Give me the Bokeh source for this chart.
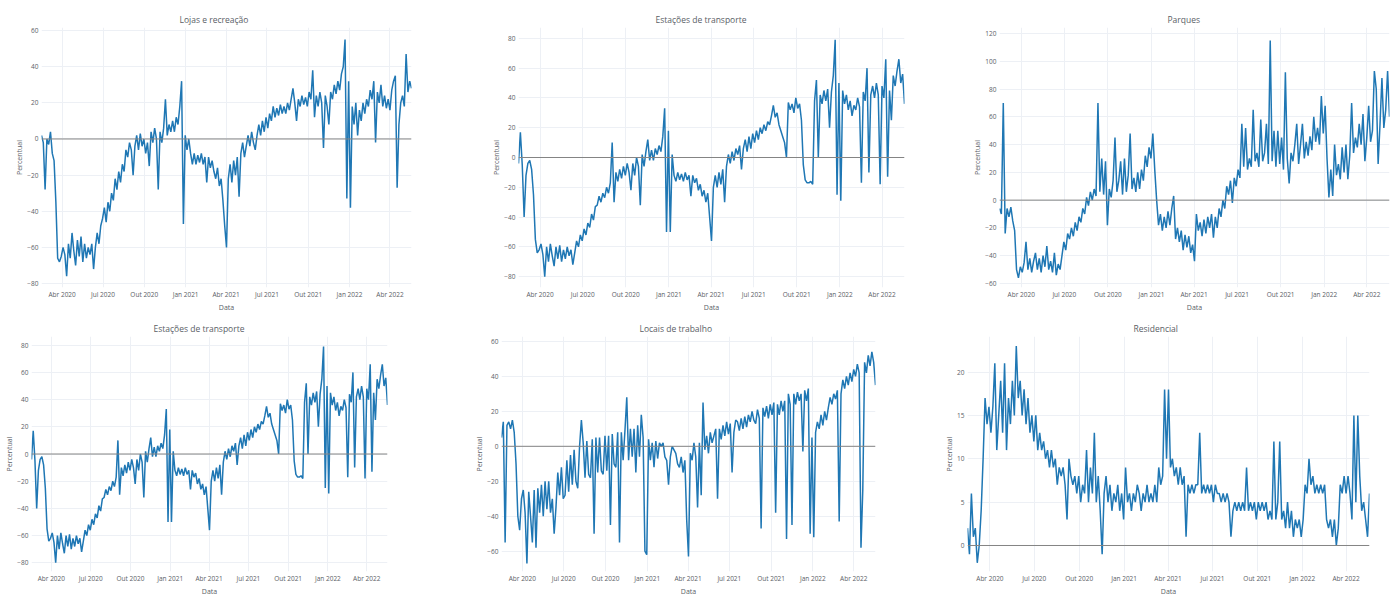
import pandas as pd
from bokeh.plotting import figure
from bokeh.layouts import row, column
from bokeh.models import Range1d, FixedTicker, Span
from bokeh.embed import file_html
from bokeh.resources import INLINE

# ---- data (sampled every 4 days from 2020-02-15) ----
START_DATE = "2020-02-15"
STEP = "4D"

lojas = [
    2, -2, -28, 0, -3, 4, -8, -12, -35, -66,
    -68, -65, -60, -64, -76, -58, -66, -52, -62, -70,
    -56, -65, -54, -68, -58, -66, -60, -64, -58, -72,
    -60, -52, -58, -48, -44, -38, -46, -35, -40, -30,
    -34, -22, -28, -18, -24, -14, -18, -6, -10, -2,
    -6, -20, -4, 2, -6, 3, -4, 0, -8, -2,
    -15, 4, -2, 6, 0, -28, 4, -2, 6, 22,
    2, 8, 4, 10, 4, 12, 8, 18, 32, -47,
    2, -6, 0, -8, -14, -8, -14, -9, -13, -8,
    -14, -10, -24, -10, -16, -12, -18, -22, -16, -26,
    -22, -34, -48, -60, -22, -14, -24, -12, -20, -10,
    -32, -8, -2, -10, -4, 2, -4, 4, -2, -6,
    2, 8, 2, 10, 4, 12, 6, 14, 10, 18,
    12, 17, 13, 19, 14, 18, 14, 20, 16, 22,
    28, 20, 10, 22, 18, 24, 19, 23, 18, 26,
    22, 38, 12, 24, 18, 26, 20, -5, 24, 18,
    8, 26, 22, 30, 25, 32, 27, 36, 40, 55,
    -33, 32, -38, 18, 8, 20, 2, 16, 10, 20,
    14, 22, 18, 27, 22, 32, -2, 26, 20, 30,
    18, 24, 17, 22, 16, 27, 32, 35, -27, 8,
    20, 24, 18, 47, 26, 32, 28,
]

transporte = [
    -4, 17, -5, -40, -12, -4, -2, -8, -25, -55,
    -64, -62, -58, -65, -80, -60, -70, -58, -66, -73,
    -60, -68, -59, -70, -62, -68, -60, -66, -62, -72,
    -64, -56, -60, -52, -56, -48, -52, -44, -47, -38,
    -42, -33, -32, -26, -30, -24, -27, -20, -24, -17,
    10, -30, -10, -16, -8, -14, -6, -12, -4, -10,
    -22, -4, -12, 0, -6, -32, 2, -6, 4, 12,
    -2, 5, -2, 6, 2, 8, 4, 14, 33, -50,
    18, -50, 2, -12, -16, -10, -15, -11, -16, -10,
    -15, -12, -26, -12, -17, -14, -22, -18, -26, -22,
    -30, -24, -40, -56, -20, -12, -20, -10, -18, -8,
    -30, -6, 2, -4, 4, -2, 6, 2, 8, -8,
    6, 12, 4, 14, 6, 16, 10, 18, 12, 20,
    16, 22, 18, 24, 22, 28, 35, 27, 30, 22,
    18, 14, 10, 0, 37, 32, 36, 30, 40, 33,
    36, 25, -5, -15, -17, -17, -16, -18, 38, 52,
    0, 42, 36, 45, 38, 46, 20, 44, 55, 79,
    -25, 50, -29, 45, 36, 42, 32, 38, 28, 35,
    32, 40, 34, -17, 44, 38, 60, -10, 42, 48,
    40, 50, 42, -18, 48, 40, 66, -13, 45, 25,
    55, 48, 58, 66, 50, 56, 36,
]

parques = [
    -6, -10, 70, -24, -6, -12, -5, -15, -22, -50,
    -56, -48, -52, -45, -30, -50, -42, -52, -44, -38,
    -50, -42, -52, -40, -48, -33, -50, -44, -52, -38,
    -54, -46, -50, -40, -30, -36, -24, -28, -20, -26,
    -16, -22, -12, -16, -6, -10, 2, -4, 6, 0,
    8, 3, 70, 6, 30, 4, 28, -18, 8, 2,
    14, 45, 6, 14, 28, 4, 30, 6, 18, 48,
    8, 16, 6, 20, 8, 22, 14, 32, 24, 38,
    30, 48, 22, 0, -18, -10, -22, -12, -20, -8,
    -18, -6, 3, -28, -20, -30, -22, -36, -25, -34,
    -26, -38, -32, -44, -10, -22, -16, -26, -14, -24,
    -12, -20, -10, -27, -12, -20, -6, -12, 0, -6,
    10, 4, 14, -2, 16, 10, 22, 16, 55, 24,
    52, 22, 30, 24, 65, 28, 34, 24, 58, 28,
    34, 55, 26, 115, 28, 50, 24, 50, 26, 45,
    22, 92, 30, 12, 34, 28, 40, 55, 26, 40,
    55, 30, 42, 32, 46, 36, 60, 42, 52, 40,
    75, 48, 68, 30, 2, 22, 3, 40, 18, 26,
    15, 38, 20, 40, 15, 32, 70, 34, 45, 38,
    55, 40, 62, 28, 45, 68, 42, 50, 93, 80,
    26, 55, 88, 52, 65, 93, 60,
]

trabalho = [
    5, 14, -55, 12, 14, 10, 15, 8, -10, -40,
    -48, -30, -25, -38, -67, -26, -40, -55, -25, -58,
    -24, -38, -22, -40, -20, -36, -20, -38, -30, -50,
    -35, -15, -28, -12, -30, -28, -8, -26, -5, -22,
    -2, -20, -24, 0, 15, 2, -18, 3, -16, -18,
    4, -50, 5, -15, 5, -14, -16, 6, -14, 6,
    -45, 7, -10, -12, 8, -55, 8, -8, 9, 28,
    -8, 10, -6, 10, -15, 12, -6, 18, 5, -60,
    -62, 4, -8, 2, -12, 3, -7, 2, 0, 2,
    -6, -8, -22, -6, 0, -2, -4, -10, -12, -6,
    -15, -8, -42, -63, -4, -8, 2, -6, -35, 2,
    -28, 25, -2, 6, -4, 8, 2, 6, 10, -30,
    10, 4, 12, 6, 14, 7, 13, -15, 8, 15,
    14, 9, 16, 10, 17, 11, 18, 14, 20, 15,
    13, 21, 16, -47, 22, 17, 23, 16, 24, 18,
    25, -38, 24, 18, 26, 20, 26, -53, 30, 24,
    -45, 30, 24, 31, 26, 30, -3, 32, 26, 33,
    -50, 5, -52, 8, 14, 10, 18, 12, 20, 15,
    22, 28, 24, 30, 27, 32, -43, 30, 38, 33,
    40, 35, 42, 37, 44, 40, 47, 42, -58, -25,
    48, 42, 52, 46, 54, 48, 35,
]

residencial = [
    2, -1, 6, 1, 2, -2, 0, 4, 10, 17,
    14, 16, 13, 16, 21, 11, 15, 19, 13, 21,
    11, 17, 14, 19, 15, 23, 17, 19, 15, 18,
    14, 17, 13, 15, 12, 15, 11, 13, 11, 12,
    10, 11, 9, 11, 9, 10, 7, 9, 8, 9,
    7, 3, 10, 8, 7, 8, 6, 8, 5, 7,
    6, 11, 5, 9, 6, 13, 5, 8, 4, -1,
    6, 8, 5, 7, 4, 6, 5, 7, 4, 6,
    3, 9, 5, 6, 4, 6, 5, 7, 6, 4,
    6, 5, 7, 5, 6, 5, 7, 5, 9, 7,
    8, 18, 10, 18, 9, 10, 8, 9, 7, 9,
    7, 8, 1, 7, 6, 7, 6, 7, 7, 13,
    6, 7, 6, 7, 6, 7, 5, 7, 6, 6,
    5, 6, 5, 6, 5, 1, 4, 5, 4, 5,
    4, 5, 4, 9, 4, 5, 4, 5, 3, 5,
    4, 5, 4, 5, 3, 4, 3, 12, 3, 5,
    12, 3, 4, 2, 5, 2, 4, 1, 3, 2,
    3, 1, 3, 7, 6, 10, 7, 8, 6, 7,
    6, 7, 6, 7, 3, 2, 3, 1, 3, 0,
    2, 7, 6, 8, 6, 8, 6, 3, 15, 5,
    15, 8, 4, 5, 3, 1, 6,
]

tick_dates = ["2020-04-01", "2020-07-01", "2020-10-01", "2021-01-01", "2021-04-01",
              "2021-07-01", "2021-10-01", "2022-01-01", "2022-04-01"]
tick_labels = ["Abr 2020", "Jul 2020", "Out 2020", "Jan 2021", "Abr 2021",
               "Jul 2021", "Out 2021", "Jan 2022", "Abr 2022"]

titles = ["Lojas e recreação", "Estações de transporte", "Parques",
          "Estações de transporte", "Locais de trabalho", "Residencial"]

FONT = "Open Sans"
LINE = "#1f77b4"
TEXT = "#5a5e66"
GRID = "#edf0f5"


def ms(d):
    return float(pd.Timestamp(d).value // 10**6)


def build(title, values, yr, yticks, width, height, bl, br, bt, bb, title_off):
    dates = pd.date_range(START_DATE, periods=len(values), freq=STEP)
    xs = [float(d.value // 10**6) for d in dates]
    p = figure(width=width, height=height, output_backend="svg", toolbar_location=None,
               x_range=Range1d(xs[0], xs[-1]), y_range=Range1d(yr[0], yr[1]),
               min_border_left=bl, min_border_right=br,
               min_border_top=bt, min_border_bottom=bb)
    p.outline_line_color = None
    p.background_fill_color = "white"
    p.border_fill_color = "white"

    p.title.text = title
    p.title.align = "left"
    p.title.offset = title_off
    p.title.standoff = 5
    p.title.text_font = FONT
    p.title.text_font_size = "8.5px"
    p.title.text_font_style = "normal"
    p.title.text_color = TEXT

    p.line(xs, values, line_color=LINE, line_width=1.5)
    p.add_layout(Span(location=0, dimension="width", line_color="#848484", line_width=1))

    tks = [ms(d) for d in tick_dates]
    p.xaxis.ticker = FixedTicker(ticks=tks)
    p.xaxis.major_label_overrides = {t: lab for t, lab in zip(tks, tick_labels)}
    p.yaxis.ticker = FixedTicker(ticks=yticks)
    p.xaxis.axis_label = "Data"
    p.yaxis.axis_label = "Percentual"
    for ax in (p.xaxis, p.yaxis):
        ax.axis_line_color = None
        ax.major_tick_line_color = None
        ax.minor_tick_line_color = None
        ax.major_tick_out = 0
        ax.major_tick_in = 0
        ax.minor_tick_out = 0
        ax.minor_tick_in = 0
        ax.major_label_text_font = FONT
        ax.major_label_text_font_size = "6.5px"
        ax.major_label_text_color = TEXT
        ax.axis_label_text_font = FONT
        ax.axis_label_text_font_size = "7px"
        ax.axis_label_text_font_style = "normal"
        ax.axis_label_text_color = TEXT
    p.xaxis.major_label_standoff = 2
    p.xaxis.axis_label_standoff = 1
    p.yaxis.major_label_standoff = 3
    p.yaxis.axis_label_standoff = 0
    p.xgrid.grid_line_color = GRID
    p.ygrid.grid_line_color = GRID
    return p


H1, H2 = 314, 284
p1 = build(titles[0], lojas, (-82.2, 61.7), [-80, -60, -40, -20, 0, 20, 40, 60],
           478, H1, 41, 67, 27, 25, 138)
p2 = build(titles[1], transporte, (-87.3, 87.3), [-80, -60, -40, -20, 0, 20, 40, 60, 80],
           481, H1, 40, 55, 27, 25, 137)
p3 = build(titles[2], parques, (-62.9, 124.3), [-60, -40, -20, 0, 20, 40, 60, 80, 100, 120],
           431, H1, 40, 1, 27, 25, 168)
p4 = build(titles[3], transporte, (-86.4, 86.4), [-80, -60, -40, -20, 0, 20, 40, 60, 80],
           463, H2, 31, 76, 22, 25, 122)
p5 = build(titles[4], trabalho, (-71.6, 62.8), [-60, -40, -20, 0, 20, 40, 60],
           466, H2, 38, 54, 22, 25, 138)
p6 = build(titles[5], residencial, (-3.0, 24.1), [0, 5, 10, 15, 20],
           461, H2, 38, 21, 22, 25, 166)

layout = column(row(p1, p2, p3), row(p4, p5, p6))

with open("out.html", "w") as f:
    f.write(file_html(layout, INLINE))
